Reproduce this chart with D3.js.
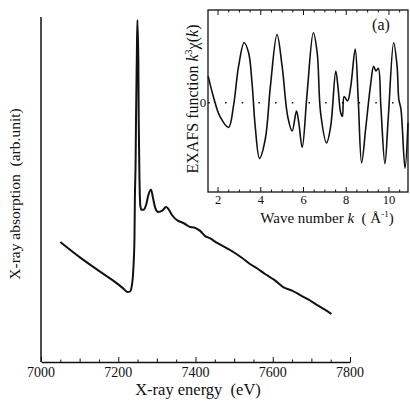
<!DOCTYPE html>
<html>
<head>
<meta charset="utf-8">
<script src="https://cdn.jsdelivr.net/npm/d3@7"></script>
<style>
  body { margin: 0; background: #fff; }
  svg text { font-family: "Liberation Serif", "DejaVu Serif", serif; fill: #111; }
</style>
</head>
<body>
<div id="chart"></div>
<script>
// main spectrum: energy (eV) and absorption (arb. unit)
const energy = [7050, 7100, 7150, 7200, 7215, 7224, 7230, 7235, 7238, 7240, 7242, 7243, 7245, 7246, 7248, 7249.5,
  7252, 7253, 7255, 7257, 7260, 7265, 7272, 7278, 7285, 7290, 7296, 7303, 7313, 7324, 7330, 7339,
  7355, 7364, 7373, 7386, 7396, 7404, 7412, 7425, 7437, 7456, 7476, 7502, 7520, 7541, 7560, 7580,
  7604, 7627, 7650, 7671, 7694, 7715, 7735, 7752]
const absorption = [3.48, 3.04, 2.64, 2.25, 2.11, 2.03, 2.04, 2.2, 2.5, 2.9, 3.6, 4.70, 5.86, 7.07, 8.75, 9.91,
  8.75, 7.01, 5.28, 4.55, 4.41, 4.41, 4.55, 4.84, 4.99, 4.75, 4.46, 4.35, 4.38, 4.49, 4.43, 4.26,
  4.09, 4.05, 4.00, 3.91, 3.90, 3.86, 3.80, 3.65, 3.59, 3.45, 3.33, 3.16, 3.02, 2.84, 2.71, 2.55,
  2.38, 2.17, 2.07, 1.94, 1.80, 1.65, 1.52, 1.39]

// inset EXAFS: wave number k and k^3 chi(k)
const waveK = [1.54, 1.78, 2.09, 2.49, 2.72, 2.96, 3.22, 3.43, 3.59, 3.74, 3.94, 4.21, 4.45, 4.76, 5.0,
  5.26, 5.47, 5.67, 5.78, 5.94, 6.17, 6.46, 6.64, 6.80, 7.08, 7.27, 7.51, 7.61, 7.74, 7.82, 7.90,
  8.06, 8.21, 8.42, 8.56, 8.72, 8.92, 9.15, 9.28, 9.39, 9.50, 9.62, 9.81, 9.97, 10.22, 10.38, 10.46,
  10.56, 10.75, 10.89]
const exafs = [0.29, 0.07, -0.15, -0.27, -0.04, 0.40, 0.66, 0.55, 0.22, -0.26, -0.61, -0.40, 0.18, 0.75, 0.40,
  -0.15, -0.31, -0.09, -0.22, -0.49, 0.11, 0.77, 0.55, -0.11, -0.44, -0.26, 0.35, 0.18, -0.11, -0.15, 0.07,
  0.02, 0.18, 0.59, 0.04, -0.66, -0.26, 0.22, 0.40, 0.35, 0.38, -0.04, -0.67, -0.15, 0.66, 0.40, 0.04,
  -0.07, -0.72, -0.22]

const energyTicks = [7000, 7200, 7400, 7600, 7800]
const kTicks = [2, 4, 6, 8, 10]

const width = 410
const height = 404

const svg = d3.select('#chart')
  .append('svg')
  .attr('width', width)
  .attr('height', height)

/* main chart */
const x = d3.scaleLinear().domain([7000, 7800]).range([41, 350])
const y = d3.scaleLinear().domain([0, 10]).range([362, 17])

const xAxis = d3.axisBottom(x)
  .tickValues(d3.range(7000, 7801, 50))
  .tickSize(0)
  .tickFormat('')

const gx = svg.append('g')
  .attr('transform', `translate(0,${y(0)})`)
  .call(xAxis)
gx.select('.domain').attr('stroke', '#111').attr('stroke-width', 1.5)
gx.selectAll('.tick line')
  .attr('y2', d => energyTicks.includes(d) ? -5 : (d % 100 === 0 ? -3.5 : -2.5))
  .attr('stroke', '#111')

svg.selectAll('.elabel')
  .data(energyTicks)
  .enter()
  .append('text')
  .attr('class', 'elabel')
  .attr('x', d => x(d))
  .attr('y', 377)
  .attr('text-anchor', 'middle')
  .style('font-size', '14px')
  .text(d => d)

svg.append('line')
  .attr('x1', x(7000)).attr('x2', x(7000))
  .attr('y1', y(0)).attr('y2', y(10))
  .attr('stroke', '#111')
  .attr('stroke-width', 1.5)

const line = d3.line()
  .x((d, i) => x(energy[i]))
  .y(d => y(d))
  .curve(d3.curveMonotoneX)

svg.append('path')
  .datum(absorption)
  .attr('fill', 'none')
  .attr('stroke', '#111')
  .attr('stroke-width', 2)
  .attr('stroke-linejoin', 'round')
  .attr('d', line)

svg.append('text')
  .text('X-ray energy  (eV)')
  .attr('x', 198)
  .attr('y', 395)
  .attr('text-anchor', 'middle')
  .style('font-size', '16.5px')
  .attr('xml:space', 'preserve')

svg.append('text')
  .text('X-ray absorption  (arb.unit)')
  .attr('transform', 'translate(20,194) rotate(-90)')
  .attr('text-anchor', 'middle')
  .style('font-size', '15.5px')
  .attr('xml:space', 'preserve')

/* inset */
const kx = d3.scaleLinear().domain([1.53, 10.89]).range([208, 408])
const ky = d3.scaleLinear().domain([-0.98, 1.02]).range([192, 10])

svg.append('rect')
  .attr('x', 208).attr('y', 10)
  .attr('width', 200).attr('height', 182)
  .attr('fill', '#fff')
  .attr('stroke', '#111')
  .attr('stroke-width', 1.3)

const kMinor = d3.range(2, 10.9, 0.5)
svg.append('g')
  .selectAll('line')
  .data(kMinor)
  .enter()
  .append('line')
  .attr('x1', d => kx(d)).attr('x2', d => kx(d))
  .attr('y1', 192)
  .attr('y2', d => kTicks.includes(d) ? 187 : 189.5)
  .attr('stroke', '#111')

svg.append('g')
  .selectAll('line')
  .data(kMinor)
  .enter()
  .append('line')
  .attr('x1', d => kx(d)).attr('x2', d => kx(d))
  .attr('y1', 10)
  .attr('y2', d => kTicks.includes(d) ? 15 : 12.5)
  .attr('stroke', '#111')

svg.selectAll('.klabel')
  .data(kTicks)
  .enter()
  .append('text')
  .attr('class', 'klabel')
  .attr('x', d => kx(d))
  .attr('y', 204)
  .attr('text-anchor', 'middle')
  .style('font-size', '12.5px')
  .text(d => d)

// dotted zero line
svg.append('line')
  .attr('x1', kx(1.53)).attr('x2', kx(10.89))
  .attr('y1', ky(0)).attr('y2', ky(0))
  .attr('stroke', '#111')
  .attr('stroke-width', 1.5)
  .attr('stroke-dasharray', '1.5,15.2')
  .attr('stroke-dashoffset', -17)

svg.append('text')
  .text('0')
  .attr('x', 203)
  .attr('y', ky(0) + 4)
  .attr('text-anchor', 'middle')
  .style('font-size', '13px')

const kline = d3.line()
  .x((d, i) => kx(waveK[i]))
  .y(d => ky(d))
  .curve(d3.curveCatmullRom)

svg.append('path')
  .datum(exafs)
  .attr('fill', 'none')
  .attr('stroke', '#111')
  .attr('stroke-width', 1.6)
  .attr('d', kline)

svg.append('text')
  .text('(a)')
  .attr('x', 381)
  .attr('y', 30)
  .attr('text-anchor', 'middle')
  .style('font-size', '16px')

const kTitle = svg.append('text')
  .attr('x', 327)
  .attr('y', 223)
  .attr('text-anchor', 'middle')
  .style('font-size', '15px')
kTitle.append('tspan').text('Wave number ')
kTitle.append('tspan').text('k').style('font-style', 'italic')
kTitle.append('tspan').text('  ( Å').attr('xml:space', 'preserve')
kTitle.append('tspan').text('-1').style('font-size', '9px').attr('dy', -6)
kTitle.append('tspan').text(')').attr('dy', 6)

const exTitle = svg.append('text')
  .attr('transform', 'translate(198,99) rotate(-90)')
  .attr('text-anchor', 'middle')
  .style('font-size', '16px')
exTitle.append('tspan').text('EXAFS function ')
exTitle.append('tspan').text('k').style('font-style', 'italic')
exTitle.append('tspan').text('3').style('font-size', '10px').attr('dy', -6)
exTitle.append('tspan').text('χ(').attr('dy', 6)
exTitle.append('tspan').text('k').style('font-style', 'italic')
exTitle.append('tspan').text(')')
</script>
</body>
</html>
